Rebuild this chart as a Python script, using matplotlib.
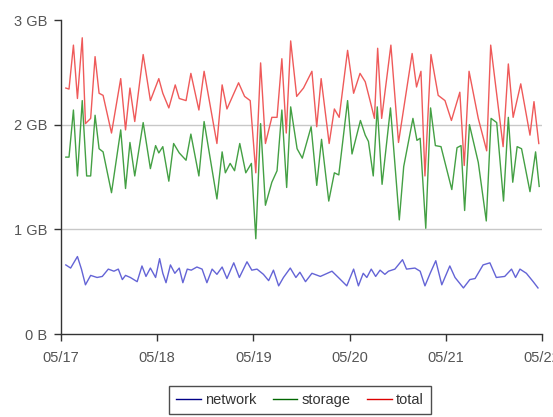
import matplotlib
matplotlib.use("Agg")
import matplotlib.pyplot as plt

# hours since 05/17 00:00, values in GB
network_hours = [1.2, 2.4, 4.1, 5.1, 6.1, 7.4, 9.0, 10.3, 11.8, 13.2, 14.3, 15.3, 16.1, 17.3, 19.0,
                 20.2, 21.2, 22.3, 23.6, 24.6, 25.4, 26.2, 27.3, 28.4, 29.5, 30.4, 31.5, 32.5, 33.9, 35.2,
                 36.4, 37.7, 38.9, 40.2, 41.4, 43.1, 44.5, 46.4, 47.6, 48.9, 50.5, 51.8, 53.0, 54.3, 55.5,
                 57.2, 58.6, 59.6, 61.0, 62.6, 64.7, 67.6, 69.2, 71.3, 73.0, 74.2, 75.4, 76.3, 77.4, 78.5,
                 79.6, 80.8, 81.7, 83.3, 85.2, 86.2, 88.3, 89.6, 90.8, 92.1, 93.5, 95.0, 97.0, 98.3, 100.4,
                 102.0, 103.3, 105.3, 107.0, 108.6, 110.7, 112.4, 113.4, 114.5, 116.1, 117.8, 119.0]
network_gb = [0.66, 0.63, 0.74, 0.62, 0.47, 0.56, 0.54, 0.55, 0.62, 0.60, 0.62, 0.52, 0.56, 0.54, 0.50,
              0.65, 0.55, 0.63, 0.54, 0.72, 0.58, 0.49, 0.66, 0.58, 0.63, 0.49, 0.62, 0.61, 0.64, 0.62,
              0.49, 0.62, 0.57, 0.64, 0.53, 0.68, 0.54, 0.69, 0.61, 0.62, 0.57, 0.51, 0.61, 0.46, 0.54,
              0.63, 0.54, 0.59, 0.50, 0.58, 0.55, 0.60, 0.54, 0.46, 0.62, 0.46, 0.58, 0.54, 0.62, 0.55,
              0.61, 0.57, 0.60, 0.62, 0.71, 0.62, 0.63, 0.60, 0.46, 0.58, 0.70, 0.47, 0.65, 0.54, 0.44,
              0.52, 0.53, 0.66, 0.68, 0.54, 0.55, 0.62, 0.54, 0.62, 0.58, 0.50, 0.44]

storage_hours = [1.2, 2.0, 3.1, 4.1, 5.3, 6.4, 7.4, 8.5, 9.5, 10.5, 12.6, 14.9, 16.1, 17.2, 18.4,
                 20.5, 22.3, 23.6, 24.4, 25.4, 26.9, 28.1, 29.5, 31.2, 32.4, 34.4, 35.7, 38.9, 40.2, 41.0,
                 42.2, 43.3, 44.6, 46.1, 47.5, 48.6, 49.8, 51.0, 52.6, 53.9, 55.1, 56.3, 57.3, 58.9, 60.2,
                 62.4, 63.8, 65.0, 66.8, 68.2, 69.3, 71.5, 72.6, 74.7, 75.9, 76.7, 77.9, 78.9, 80.1, 82.2,
                 84.4, 85.5, 87.8, 88.8, 89.6, 91.0, 92.2, 93.4, 94.8, 97.5, 98.8, 99.8, 100.7, 101.9, 104.1,
                 106.1, 107.3, 108.7, 110.4, 111.6, 112.7, 113.8, 114.9, 117.0, 118.4, 119.3]
storage_gb = [1.69, 1.69, 2.14, 1.51, 2.23, 1.51, 1.51, 2.09, 1.77, 1.74, 1.35, 1.95, 1.39, 1.83, 1.51,
              2.02, 1.58, 1.80, 1.73, 1.79, 1.46, 1.82, 1.73, 1.66, 1.91, 1.51, 2.03, 1.29, 1.74, 1.54,
              1.63, 1.56, 1.82, 1.54, 1.63, 0.91, 2.01, 1.23, 1.45, 1.56, 2.14, 1.40, 2.17, 1.77, 1.68,
              1.98, 1.42, 1.86, 1.27, 1.54, 1.52, 2.23, 1.72, 2.04, 1.90, 1.84, 1.51, 2.17, 1.43, 2.16,
              1.09, 1.60, 2.06, 1.85, 1.87, 1.01, 2.16, 1.80, 1.79, 1.38, 1.78, 1.80, 1.18, 2.00, 1.64,
              1.08, 2.06, 2.02, 1.27, 2.07, 1.45, 1.79, 1.77, 1.36, 1.74, 1.41]

total_hours = [1.2, 2.0, 3.1, 4.1, 5.3, 6.1, 7.4, 8.5, 9.5, 10.5, 12.6, 14.9, 16.1, 17.2, 18.4,
               20.5, 22.3, 24.4, 25.4, 26.9, 28.5, 29.5, 31.2, 32.4, 34.4, 35.7, 38.9, 40.2, 41.4, 44.3,
               45.8, 47.2, 48.6, 49.8, 51.0, 52.6, 53.9, 55.1, 56.2, 57.3, 58.8, 60.5, 62.6, 63.8, 64.9,
               66.9, 68.2, 69.4, 71.5, 73.0, 74.6, 75.9, 77.1, 78.2, 79.0, 80.0, 82.3, 84.2, 86.0, 87.6,
               88.7, 89.8, 90.8, 92.3, 94.1, 95.8, 97.4, 99.5, 100.6, 101.8, 104.1, 106.2, 107.2, 110.3, 111.6,
               112.8, 114.7, 117.0, 118.0, 119.2]
total_gb = [2.35, 2.34, 2.76, 2.25, 2.83, 2.01, 2.06, 2.65, 2.30, 2.28, 1.92, 2.44, 1.95, 2.35, 2.03,
            2.67, 2.23, 2.44, 2.30, 2.16, 2.38, 2.25, 2.23, 2.49, 2.14, 2.51, 1.82, 2.38, 2.15, 2.40,
            2.27, 2.23, 1.54, 2.59, 1.82, 2.07, 2.07, 2.63, 1.92, 2.80, 2.27, 2.35, 2.51, 1.98, 2.44,
            1.82, 2.15, 2.07, 2.71, 2.30, 2.49, 2.41, 2.23, 2.06, 2.73, 2.06, 2.76, 1.83, 2.28, 2.68,
            2.36, 2.51, 1.51, 2.67, 2.28, 2.23, 2.04, 2.31, 1.61, 2.51, 2.06, 1.75, 2.76, 1.79, 2.58,
            2.07, 2.39, 1.90, 2.22, 1.82]

day_ticks = [0, 24, 48, 72, 96, 120]
day_labels = ["05/17", "05/18", "05/19", "05/20", "05/21", "05/22"]
gb_ticks = [0, 1, 2, 3]
gb_labels = ["0 B", "1 GB", "2 GB", "3 GB"]

plt.rcParams["font.family"] = ["Liberation Sans", "DejaVu Sans"]

fig = plt.figure(figsize=(5.53, 4.17), dpi=100)
ax = fig.add_axes([61 / 553, 83 / 417, 481 / 553, 314 / 417])

ax.plot(network_hours, network_gb, color="#6464d6", lw=1.0, label="network", solid_joinstyle="round")
ax.plot(storage_hours, storage_gb, color="#44a044", lw=1.0, label="storage", solid_joinstyle="round")
ax.plot(total_hours, total_gb, color="#ef5a5a", lw=1.0, label="total", solid_joinstyle="round")

for g in (1, 2):
    ax.axhline(g, color="#c8c8c8", lw=1.0, zorder=0)

ax.set_xlim(0, 120)
ax.set_ylim(0, 3)
ax.set_xticks(day_ticks)
ax.set_xticklabels(day_labels)
ax.set_yticks(gb_ticks)
ax.set_yticklabels(gb_labels)

for s in ("top", "right"):
    ax.spines[s].set_visible(False)
for s in ("left", "bottom"):
    ax.spines[s].set_color("#333333")
    ax.spines[s].set_linewidth(1.0)

ax.tick_params(axis="both", direction="out", length=5, width=1, color="#333333",
               labelsize=10.5, labelcolor="#555555")
ax.tick_params(axis="x", pad=7)
ax.tick_params(axis="y", pad=5)

leg = fig.legend(loc="center", bbox_to_anchor=(300 / 553, 1 - 400 / 417), ncol=3,
                 handlelength=1.7, handletextpad=0.3, columnspacing=1.1,
                 fontsize=10.5, frameon=True, fancybox=False, borderpad=0.5)
leg.get_frame().set_edgecolor("#222222")
leg.get_frame().set_linewidth(1.0)
for h, c in zip(leg.get_lines(), ["#000088", "#006600", "#dd0000"]):
    h.set_color(c)
for t in leg.get_texts():
    t.set_color("#333333")

fig.savefig("out.png", dpi=100)
